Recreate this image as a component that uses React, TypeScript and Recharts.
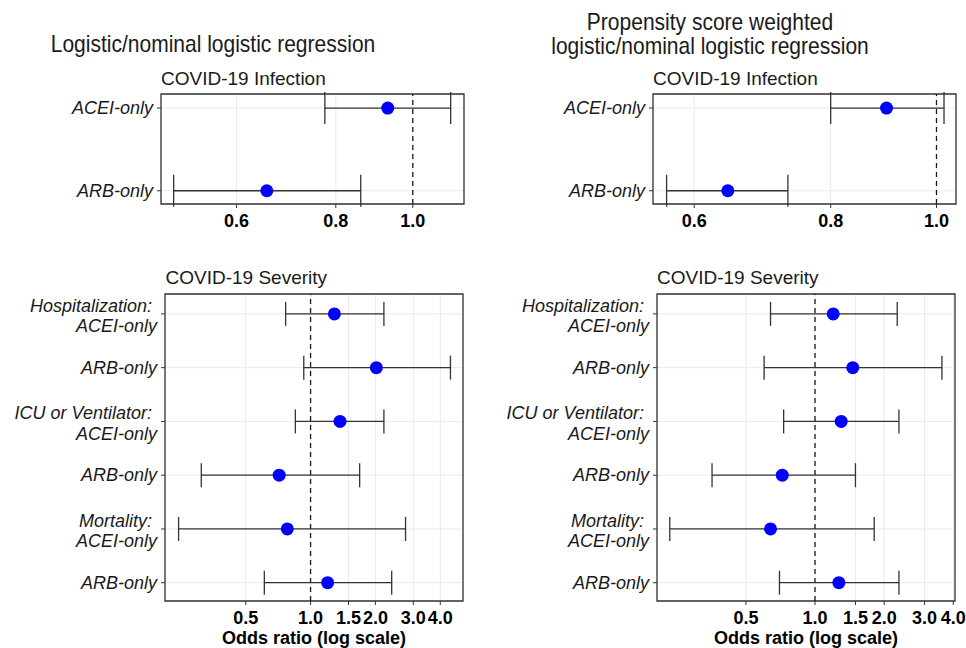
import React from "react";
import {
  ScatterChart,
  Scatter,
  XAxis,
  YAxis,
  CartesianGrid,
  ErrorBar,
  ReferenceLine,
  ReferenceArea,
} from "recharts";

const FONT = '"Liberation Sans", Arial, Helvetica, sans-serif';

// infection panels (top)
const infectionRows = ["ACEI-only", "ARB-only"];
const infectionOrLeft = [0.93, 0.655];
const infectionLowLeft = [0.775, 0.5];
const infectionHighLeft = [1.116, 0.86];
const infectionOrRight = [0.9, 0.644];
const infectionLowRight = [0.8, 0.566];
const infectionHighRight = [1.016, 0.731];
const infectionTicks = [0.6, 0.8, 1.0];

// severity panels (bottom)
const severityRows = [
  "Hospitalization:\nACEI-only",
  "ARB-only",
  "ICU or Ventilator:\nACEI-only",
  "ARB-only",
  "Mortality:\nACEI-only",
  "ARB-only",
];
const severityOrLeft = [1.29, 2.02, 1.37, 0.715, 0.78, 1.2];
const severityLowLeft = [0.766, 0.93, 0.85, 0.311, 0.244, 0.61];
const severityHighLeft = [2.19, 4.46, 2.19, 1.69, 2.76, 2.38];
const severityOrRight = [1.2, 1.46, 1.3, 0.72, 0.64, 1.27];
const severityLowRight = [0.64, 0.6, 0.73, 0.356, 0.233, 0.7];
const severityHighRight = [2.28, 3.57, 2.32, 1.5, 1.81, 2.32];
const severityTicks = [0.5, 1.0, 1.5, 2.0, 3.0, 4.0];

function buildRows(labels: string[], or: number[], low: number[], high: number[]) {
  return labels.map((label, i) => ({
    pos: labels.length - i,
    label,
    or: or[i],
    err: [or[i] - low[i], high[i] - or[i]],
  }));
}

function makeYTick(labels: string[]) {
  return (props: any) => {
    const { x, y, payload } = props;
    const idx = labels.length - payload.value;
    const text = labels[idx] || "";
    const lines = text.split("\n");
    const style = { fontFamily: FONT, fontSize: 18, fontStyle: "italic" as const };
    if (lines.length === 1) {
      return (
        <text x={x} y={y} dy={6.3} textAnchor="end" fill="#1a1a1a" style={style}>
          {lines[0]}
        </text>
      );
    }
    return (
      <text textAnchor="end" fill="#1a1a1a" style={style}>
        <tspan x={x - 5} y={y - 2}>{lines[0]}</tspan>
        <tspan x={x} y={y + 18.5}>{lines[1]}</tspan>
      </text>
    );
  };
}

const Dot = (props: any) => (
  <circle cx={props.cx} cy={props.cy} r={6.5} fill="#0000ff" />
);

interface PanelProps {
  left: number;
  top: number;
  width: number;
  height: number;
  yAxisWidth: number;
  rightMargin: number;
  xAxisHeight: number;
  labels: string[];
  data: any[];
  xDomain: [number, number];
  yDomain: [number, number];
  xTicks: number[];
  capWidth: number;
  xLabel?: string;
}

function Panel(p: PanelProps) {
  const yTicks = p.labels.map((_, i) => i + 1);
  return (
    <div style={{ position: "absolute", left: p.left, top: p.top }}>
      <ScatterChart
        width={p.width}
        height={p.height}
        margin={{ top: 34, right: p.rightMargin, bottom: 0, left: 0 }}
      >
        <CartesianGrid stroke="#ebebeb" strokeWidth={1} />
        <XAxis
          type="number"
          dataKey="or"
          scale="log"
          domain={p.xDomain}
          allowDataOverflow
          ticks={p.xTicks}
          interval={0}
          tickFormatter={(v: number) => v.toFixed(1)}
          axisLine={false}
          tickLine={{ stroke: "#333" }}
          tickSize={4}
          tickMargin={6}
          height={p.xAxisHeight}
          tick={{ fontFamily: FONT, fontSize: 18, fontWeight: 700, fill: "#000" }}
          label={
            p.xLabel
              ? {
                  value: p.xLabel,
                  position: "insideBottom",
                  offset: 4,
                  style: { fontFamily: FONT, fontSize: 18, fontWeight: 700, fill: "#000" },
                }
              : undefined
          }
        />
        <YAxis
          type="number"
          dataKey="pos"
          domain={p.yDomain}
          allowDataOverflow
          ticks={yTicks}
          interval={0}
          width={p.yAxisWidth}
          axisLine={false}
          tickLine={{ stroke: "#333" }}
          tickSize={4}
          tickMargin={4}
          tick={makeYTick(p.labels)}
        />
        <ReferenceLine
          x={1}
          stroke="#1a1a1a"
          strokeWidth={1.3}
          strokeDasharray="5 4"
          ifOverflow="hidden"
        />
        <ReferenceArea
          x1={p.xDomain[0]}
          x2={p.xDomain[1]}
          y1={p.yDomain[0]}
          y2={p.yDomain[1]}
          fill="none"
          fillOpacity={0}
          stroke="#333"
          strokeWidth={1.3}
        />
        <Scatter data={p.data} shape={Dot} isAnimationActive={false}>
          <ErrorBar
            dataKey="err"
            direction="x"
            width={p.capWidth}
            stroke="#333"
            strokeWidth={1.3}
            isAnimationActive={false}
          />
        </Scatter>
      </ScatterChart>
    </div>
  );
}

const titleStyle: React.CSSProperties = {
  position: "absolute",
  fontFamily: FONT,
  fontSize: 24,
  lineHeight: "24.5px",
  color: "#1a1a1a",
  whiteSpace: "nowrap",
  textAlign: "center",
  transform: "translateX(-50%) scaleX(0.875)",
};

const subStyle: React.CSSProperties = {
  position: "absolute",
  fontFamily: FONT,
  fontSize: 19,
  lineHeight: "19px",
  color: "#1a1a1a",
  whiteSpace: "nowrap",
};

export default function App() {
  const infLeft = buildRows(infectionRows, infectionOrLeft, infectionLowLeft, infectionHighLeft);
  const infRight = buildRows(infectionRows, infectionOrRight, infectionLowRight, infectionHighRight);
  const sevLeft = buildRows(severityRows, severityOrLeft, severityLowLeft, severityHighLeft);
  const sevRight = buildRows(severityRows, severityOrRight, severityLowRight, severityHighRight);

  return (
    <div
      style={{
        position: "absolute",
        left: 0,
        top: 0,
        width: 966,
        height: 648,
        background: "#fff",
        overflow: "hidden",
      }}
    >
      <div style={{ ...titleStyle, left: 213, top: 32 }}>
        Logistic/nominal logistic regression
      </div>
      <div style={{ ...titleStyle, left: 710, top: 9.5 }}>
        Propensity score weighted
        <br />
        logistic/nominal logistic regression
      </div>

      <div style={{ ...subStyle, left: 161, top: 68.5 }}>COVID-19 Infection</div>
      <div style={{ ...subStyle, left: 653, top: 68.5 }}>COVID-19 Infection</div>
      <div style={{ ...subStyle, left: 165.5, top: 267.5 }}>COVID-19 Severity</div>
      <div style={{ ...subStyle, left: 657, top: 267.5 }}>COVID-19 Severity</div>

      <Panel
        left={0}
        top={60}
        width={480}
        height={175}
        yAxisWidth={161}
        rightMargin={16}
        xAxisHeight={31}
        labels={infectionRows}
        data={infLeft}
        xDomain={[0.482, 1.16]}
        yDomain={[0.84, 2.17]}
        xTicks={infectionTicks}
        capWidth={16}
      />
      <Panel
        left={490}
        top={60}
        width={476}
        height={175}
        yAxisWidth={163}
        rightMargin={10}
        xAxisHeight={31}
        labels={infectionRows}
        data={infRight}
        xDomain={[0.55, 1.042]}
        yDomain={[0.84, 2.17]}
        xTicks={infectionTicks}
        capWidth={16}
      />
      <Panel
        left={0}
        top={260}
        width={480}
        height={388}
        yAxisWidth={165}
        rightMargin={17}
        xAxisHeight={47}
        labels={severityRows}
        data={sevLeft}
        xDomain={[0.211, 5.1]}
        yDomain={[0.66, 6.37]}
        xTicks={severityTicks}
        capWidth={12}
        xLabel="Odds ratio (log scale)"
      />
      <Panel
        left={490}
        top={260}
        width={476}
        height={388}
        yAxisWidth={167}
        rightMargin={11}
        xAxisHeight={47}
        labels={severityRows}
        data={sevRight}
        xDomain={[0.205, 4.07]}
        yDomain={[0.66, 6.37]}
        xTicks={severityTicks}
        capWidth={12}
        xLabel="Odds ratio (log scale)"
      />
    </div>
  );
}
